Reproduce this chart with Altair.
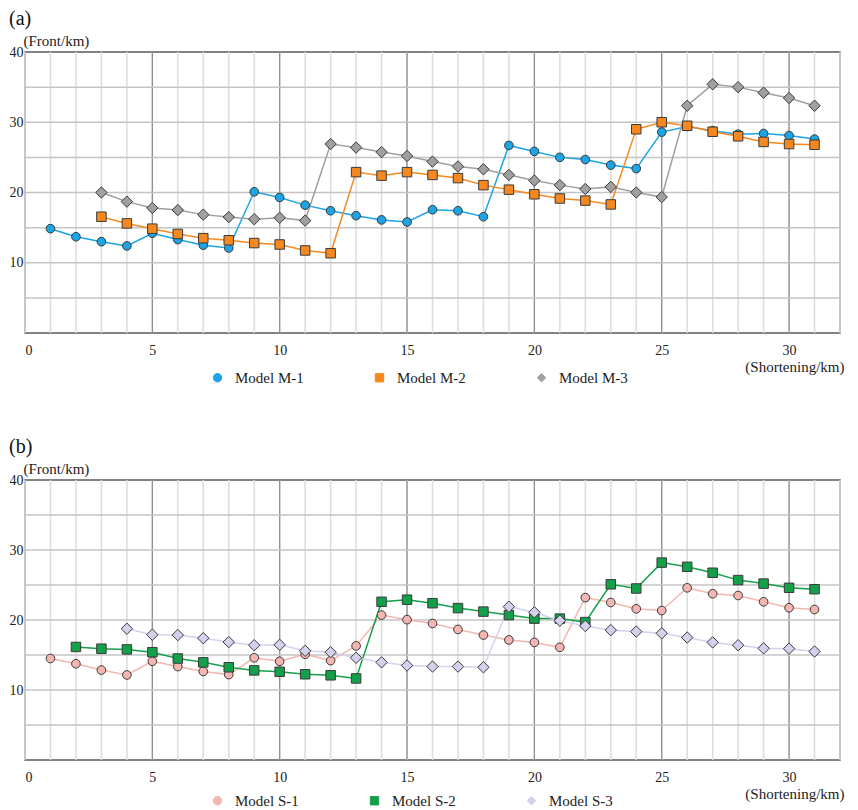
import altair as alt
import pandas as pd

FONT = "Liberation Serif, Times New Roman, serif"

# ---------------- data ----------------
m1_x = list(range(1, 32))
m1_y = [14.85, 13.7, 13.0, 12.4, 14.2, 13.3, 12.5, 12.1, 20.1, 19.3, 18.2, 17.4, 16.7, 16.1, 15.8,
        17.55, 17.4, 16.55, 26.7, 25.85, 25.0, 24.7, 23.9, 23.4, 28.6, 29.4, 28.8, 28.3, 28.4, 28.1, 27.6]
m2_x = list(range(3, 32))
m2_y = [16.55, 15.6, 14.85, 14.1, 13.5, 13.2, 12.8, 12.6, 11.75, 11.35, 22.9, 22.4, 22.9,
        22.5, 22.05, 21.05, 20.4, 19.75, 19.15, 18.85, 18.3, 29.0, 30.0, 29.5, 28.65, 28.0, 27.2, 26.9, 26.8]
m3_x = list(range(3, 32))
m3_y = [20.0, 18.7, 17.8, 17.5, 16.85, 16.5, 16.2, 16.4, 16.0, 26.9, 26.4, 25.75, 25.2,
        24.4, 23.7, 23.3, 22.5, 21.7, 21.05, 20.5, 20.8, 20.0, 19.35, 32.35, 35.4, 35.0, 34.2, 33.45, 32.35]

s1_x = list(range(1, 32))
s1_y = [14.5, 13.75, 12.85, 12.15, 14.1, 13.35, 12.65, 12.2, 14.6, 14.1, 15.1, 14.2, 16.3, 20.7, 20.05,
        19.5, 18.65, 17.85, 17.15, 16.8, 16.1, 23.2, 22.5, 21.6, 21.35, 24.6, 23.75, 23.5, 22.6, 21.75, 21.5]
s2_x = list(range(2, 32))
s2_y = [16.15, 15.9, 15.8, 15.4, 14.5, 13.95, 13.25, 12.8, 12.6, 12.25, 12.1, 11.65, 22.6, 22.9,
        22.4, 21.7, 21.2, 20.7, 20.2, 20.2, 19.7, 25.1, 24.5, 28.2, 27.6, 26.75, 25.7, 25.2, 24.6, 24.4]
s3_x = list(range(4, 32))
s3_y = [18.75, 17.9, 17.85, 17.4, 16.85, 16.4, 16.45, 15.6, 15.4, 14.6, 13.95, 13.5,
        13.35, 13.35, 13.25, 21.9, 21.1, 19.9, 19.15, 18.55, 18.35, 18.1, 17.5, 16.8, 16.4, 15.95, 15.9, 15.5]

names_a = ["Model M-1", "Model M-2", "Model M-3"]
names_b = ["Model S-1", "Model S-2", "Model S-3"]
colors_a = ["#1ca4e4", "#f5891f", "#a0a0a0"]
colors_b = ["#f4b6b0", "#14a04a", "#d4d1ee"]
shapes = ["circle", "square", "diamond"]
marker_sizes = [75, 90, 130]

x_ticks = [0, 5, 10, 15, 20, 25, 30]
y_ticks = [10, 20, 30, 40]
grid_x_minor = list(range(0, 33))
grid_x_major = [5, 10, 15, 20, 25, 30]
grid_y = [5, 10, 15, 20, 25, 30, 35]

W = 815


def long_df(names, xs, ys):
    rows = []
    for n, xx, yy in zip(names, xs, ys):
        for a, b in zip(xx, yy):
            rows.append({"x": a, "y": b, "series": n})
    return pd.DataFrame(rows)


def panel(label, names, xs, ys, colors, h, leg_dy):
    df = long_df(names, xs, ys)
    xsc = alt.Scale(domain=[0, 32], nice=False, zero=False)
    ysc = alt.Scale(domain=[0, 40], nice=False)

    xaxis = alt.Axis(values=x_ticks, grid=False, ticks=False, domain=False,
                     labelFont=FONT, labelFontSize=14, labelColor="#222", labelPadding=10,
                     title="(Shortening/km)", titleFont=FONT, titleFontSize=15,
                     titleFontWeight="normal", titleColor="#222",
                     titleAlign="right", titleX=W + 4, titleY=33, titleBaseline="middle")
    yaxis = alt.Axis(values=y_ticks, grid=False, ticks=False, domain=False,
                     labelFont=FONT, labelFontSize=14, labelColor="#222", labelPadding=2,
                     title="(Front/km)", titleFont=FONT, titleFontSize=15,
                     titleFontWeight="normal", titleColor="#222", titleAngle=0,
                     titleAlign="left", titleX=-2, titleY=-4, titleBaseline="bottom")

    X = alt.X("x:Q", scale=xsc, axis=xaxis)
    Y = alt.Y("y:Q", scale=ysc, axis=yaxis)

    minor = alt.Chart(pd.DataFrame({"x": grid_x_minor})).mark_rule(
        color="#dcdcdc", strokeWidth=1.5).encode(x=X)
    major = alt.Chart(pd.DataFrame({"x": grid_x_major})).mark_rule(
        color="#8c8c8c", strokeWidth=1.2).encode(x=X)
    hgrid = alt.Chart(pd.DataFrame({"y": grid_y})).mark_rule(
        color="#c4c4c4", strokeWidth=1.5).encode(y=Y)

    leg = alt.Legend(title=None, orient="none", direction="horizontal",
                     legendX=185, legendY=h + leg_dy,
                     labelFont=FONT, labelFontSize=15, labelColor="#222",
                     columnPadding=68, symbolStrokeColor="#333", symbolStrokeWidth=1,
                     symbolSize=70, labelOffset=10)
    C = alt.Color("series:N", scale=alt.Scale(domain=names, range=colors), legend=leg)
    S = alt.Shape("series:N", scale=alt.Scale(domain=names, range=shapes), legend=leg)

    base = alt.Chart(df)
    ln = base.mark_line(strokeWidth=1.5).encode(x=X, y=Y, color=C, detail="series:N")
    layers = [minor, major, hgrid, ln]
    for n, sz in zip(names, marker_sizes):
        layers.append(
            base.transform_filter(alt.datum.series == n)
            .mark_point(filled=True, opacity=1, stroke="#3a3a3a", strokeWidth=1, size=sz)
            .encode(x=X, y=Y, color=C, shape=S)
        )
    return alt.layer(*layers).properties(
        width=W, height=h,
        title=alt.TitleParams(label, anchor="start", frame="bounds", font=FONT,
                              fontSize=20, fontWeight="normal", color="#111", offset=4),
    )


pa = panel("(a)", names_a, [m1_x, m2_x, m3_x], [m1_y, m2_y, m3_y], colors_a, 281, 37)
pb = panel("(b)", names_b, [s1_x, s2_x, s3_x], [s1_y, s2_y, s3_y], colors_b, 280, 33)

chart = alt.vconcat(pa, pb, spacing=49).resolve_scale(
    color="independent", shape="independent"
).configure(padding=0, background="white").configure_view(
    stroke="#5a5a5a", strokeWidth=1.5
)

chart.save("out.html", embed_options={"renderer": "svg", "actions": False})
